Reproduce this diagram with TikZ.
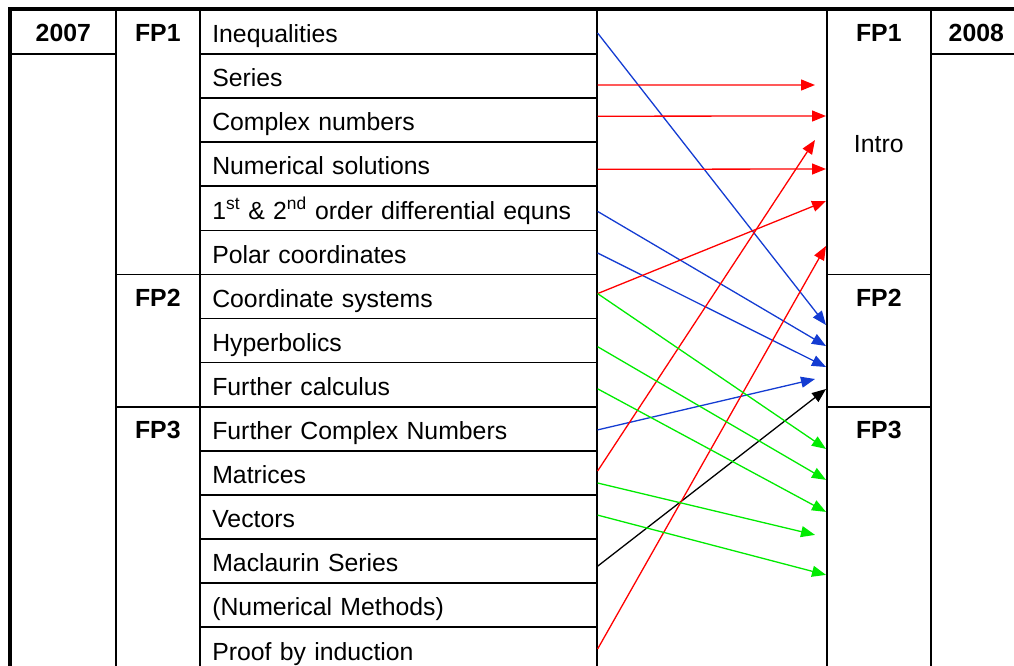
\documentclass[tikz,border=0pt]{standalone}
\usepackage{fontspec}
\setmainfont{Liberation Sans}
\usetikzlibrary{arrows.meta,calc}
\definecolor{lblue}{RGB}{20,60,210}
\definecolor{lred}{RGB}{255,0,0}
\definecolor{lgreen}{RGB}{0,235,0}
\begin{document}
\begin{tikzpicture}[x=1pt,y=-1pt,
  font=\fontsize{24.8}{29}\selectfont,
  topic/.style={draw=black, line width=1.6pt, anchor=north west, minimum height=44.1pt,
    text width=372pt, inner xsep=12.5pt, inner ysep=0pt, text height=21.5pt, text depth=0pt, align=left},
  block/.style={draw=black, line width=1.6pt, anchor=north west, inner sep=0pt},
  hdr/.style={font=\fontsize{24.8}{29}\selectfont\bfseries, anchor=base, yshift=-32.5pt},
  arr/.style={-{Triangle[length=14pt,width=11pt]}, line width=1.3pt},
]
\useasboundingbox (0,0) rectangle (1014,666);
% left header columns
\node[block, minimum width=105pt, minimum height=44.1pt, label={[hdr]north:2007}] (y7) at (10,9) {};
\node[block, minimum width=84pt, minimum height=264.6pt, label={[hdr]north:FP1}] (l1) at (115,9) {};
\node[block, minimum width=84pt, minimum height=132.3pt, label={[hdr]north:FP2}] (l2) at (115,273.6) {};
\node[block, minimum width=84pt, minimum height=270pt, label={[hdr]north:FP3}] (l3) at (115,405.9) {};
% topics
\node[topic] (t1) at (199,9) {Inequalities};
\node[topic] (t2) at (199,53.1) {Series};
\node[topic] (t3) at (199,97.2) {Complex numbers};
\node[topic] (t4) at (199,141.3) {Numerical solutions};
\node[topic] (t5) at (199,185.4) {1\textsuperscript{st} \& 2\textsuperscript{nd} order differential equns};
\node[topic] (t6) at (199,229.5) {Polar coordinates};
\node[topic] (t7) at (199,273.6) {Coordinate systems};
\node[topic] (t8) at (199,317.7) {Hyperbolics};
\node[topic] (t9) at (199,361.8) {Further calculus};
\node[topic] (t10) at (199,405.9) {Further Complex Numbers};
\node[topic] (t11) at (199,450) {Matrices};
\node[topic] (t12) at (199,494.1) {Vectors};
\node[topic] (t13) at (199,538.2) {Maclaurin Series};
\node[topic] (t14) at (199,582.3) {(Numerical Methods)};
\node[topic] (t15) at (199,626.4) {Proof by induction};
% right columns
\node[block, minimum width=104pt, minimum height=264.6pt, label={[hdr]north:FP1},
  label={[anchor=base, yshift=-144pt]north:Intro}] (r1) at (826,9) {};
\node[block, minimum width=104pt, minimum height=132.3pt, label={[hdr]north:FP2}] (r2) at (826,273.6) {};
\node[block, minimum width=104pt, minimum height=270pt, label={[hdr]north:FP3}] (r3) at (826,405.9) {};
\node[block, minimum width=91pt, minimum height=44.1pt, label={[hdr]north:2008}] (y8) at (930,9) {};
% outer thick border
\draw[line width=4pt] (10,670) -- (10,9) -- (1020,9);
% connectors: blue
\draw[arr, lblue] ($(t1.north east)+(0,24)$) -- ($(r2.north west)+(0,51.4)$);
\draw[arr, lblue] ($(t5.north east)+(0,26)$) -- ($(r2.north west)+(0,72.4)$);
\draw[arr, lblue] ($(t6.north east)+(0,23.5)$) -- ($(r2.north west)+(0,93.4)$);
\draw[arr, lblue] ($(t10.north east)+(0,24)$) -- ($(r2.north west)+(-11,105.4)$);
% black
\draw[arr, black] ($(t13.north east)+(0,28)$) -- ($(r2.north west)+(0,115.4)$);
% red
\draw[arr, lred] ($(t2.north east)+(0,32)$) -- ($(r1.north west)+(-11,76)$);
\draw[arr, lred] ($(t3.north east)+(0,19)$) -- ($(r1.north west)+(0,107)$);
\draw[arr, lred] ($(t4.north east)+(0,28)$) -- ($(r1.north west)+(0,160)$);
\draw[arr, lred] ($(t7.north east)+(0,20)$) -- ($(r1.north west)+(0,192)$);
\draw[arr, lred] ($(t11.north east)+(0,21)$) -- ($(r1.north west)+(-11,131)$);
\draw[arr, lred] ($(t15.north east)+(0,22.6)$) -- ($(r1.north west)+(0,237)$);
% green
\draw[arr, lgreen] ($(t7.north east)+(0,20)$) -- ($(r3.north west)+(0,43)$);
\draw[arr, lgreen] ($(t8.north east)+(0,29)$) -- ($(r3.north west)+(0,74)$);
\draw[arr, lgreen] ($(t9.north east)+(0,27)$) -- ($(r3.north west)+(0,106)$);
\draw[arr, lgreen] ($(t11.north east)+(0,33)$) -- ($(r3.north west)+(-11,129)$);
\draw[arr, lgreen] ($(t12.north east)+(0,21)$) -- ($(r3.north west)+(0,169)$);
\end{tikzpicture}
\end{document}
